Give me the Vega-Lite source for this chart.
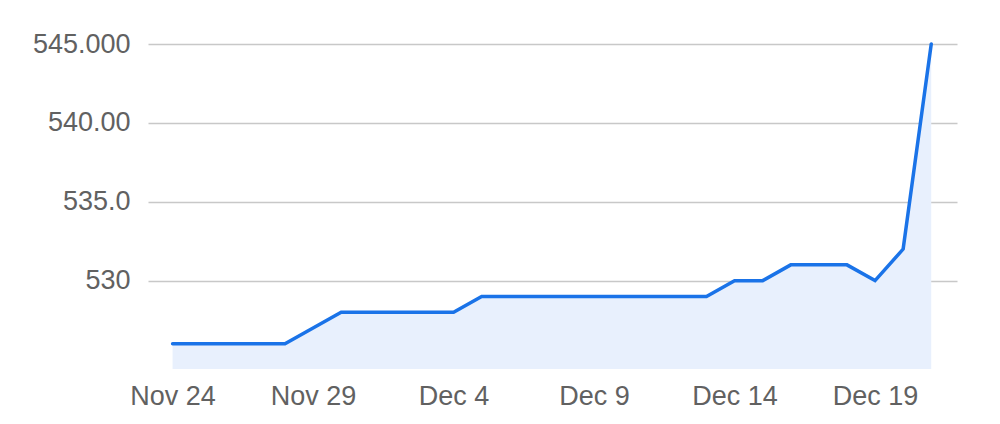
{
  "$schema": "https://vega.github.io/schema/vega-lite/v6.json",
  "autosize": "none",
  "width": 809,
  "height": 325,
  "padding": {"left": 148, "top": 44, "right": 43, "bottom": 55},
  "background": "white",
  "config": {
    "view": {"stroke": null},
    "font": "Liberation Sans",
    "axis": {"labelFont": "Liberation Sans", "labelFontSize": 27, "labelColor": "#616161"}
  },
  "data": {
    "values": [
      {"date": "2023/11/24", "value": 526},
      {"date": "2023/11/25", "value": 526},
      {"date": "2023/11/26", "value": 526},
      {"date": "2023/11/27", "value": 526},
      {"date": "2023/11/28", "value": 526},
      {"date": "2023/11/29", "value": 527},
      {"date": "2023/11/30", "value": 528},
      {"date": "2023/12/01", "value": 528},
      {"date": "2023/12/02", "value": 528},
      {"date": "2023/12/03", "value": 528},
      {"date": "2023/12/04", "value": 528},
      {"date": "2023/12/05", "value": 529},
      {"date": "2023/12/06", "value": 529},
      {"date": "2023/12/07", "value": 529},
      {"date": "2023/12/08", "value": 529},
      {"date": "2023/12/09", "value": 529},
      {"date": "2023/12/10", "value": 529},
      {"date": "2023/12/11", "value": 529},
      {"date": "2023/12/12", "value": 529},
      {"date": "2023/12/13", "value": 529},
      {"date": "2023/12/14", "value": 530},
      {"date": "2023/12/15", "value": 530},
      {"date": "2023/12/16", "value": 531},
      {"date": "2023/12/17", "value": 531},
      {"date": "2023/12/18", "value": 531},
      {"date": "2023/12/19", "value": 530},
      {"date": "2023/12/20", "value": 532},
      {"date": "2023/12/21", "value": 545}
    ]
  },
  "encoding": {
    "x": {
      "field": "date",
      "type": "temporal",
      "scale": {
        "domain": [
          {"year": 2023, "month": 11, "date": 23, "hours": 3},
          {"year": 2023, "month": 12, "date": 21, "hours": 22}
        ],
        "nice": false
      },
      "axis": {
        "title": null,
        "format": "%b %-d",
        "values": [
          {"year": 2023, "month": 11, "date": 24},
          {"year": 2023, "month": 11, "date": 29},
          {"year": 2023, "month": 12, "date": 4},
          {"year": 2023, "month": 12, "date": 9},
          {"year": 2023, "month": 12, "date": 14},
          {"year": 2023, "month": 12, "date": 19}
        ],
        "grid": false,
        "domain": false,
        "ticks": false,
        "labelPadding": 14,
        "labelFlush": false,
        "labelOverlap": false
      }
    },
    "y": {
      "field": "value",
      "type": "quantitative",
      "scale": {"domain": [524.4, 545], "nice": false, "zero": false},
      "axis": {
        "title": null,
        "values": [530, 535, 540, 545],
        "labelExpr": "datum.value == 545 ? '545.000' : datum.value == 540 ? '540.00' : datum.value == 535 ? '535.0' : '530'",
        "domain": false,
        "ticks": false,
        "labelPadding": 18,
        "grid": true,
        "gridColor": "#c8c8c8",
        "gridWidth": 1.5
      }
    }
  },
  "layer": [
    {
      "mark": {"type": "area", "color": "#e8f0fd", "opacity": 1},
      "encoding": {"y2": {"datum": 524.4}}
    },
    {
      "mark": {"type": "line", "color": "#1a73e8", "strokeWidth": 3.5, "strokeJoin": "miter", "strokeCap": "round"}
    }
  ]
}
